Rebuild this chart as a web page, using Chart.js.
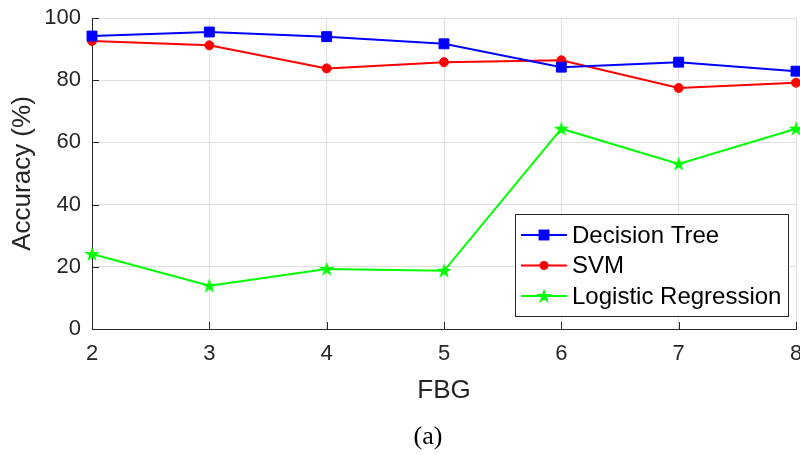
<!DOCTYPE html>
<html>
<head>
<meta charset="utf-8">
<script src="https://cdn.jsdelivr.net/npm/chart.js@4/dist/chart.umd.min.js"></script>
<style>
    html, body { margin: 0; padding: 0; background: #ffffff; }
    #wrap { position: relative; width: 800px; height: 455px; }
    #caption {
        position: absolute;
        left: 378px;
        width: 100px;
        top: 421px;
        text-align: center;
        font-family: "Liberation Serif", "DejaVu Serif", serif;
        font-size: 26px;
        line-height: 30px;
        color: #000000;
    }
</style>
</head>
<body>
<div id="wrap">
    <canvas id="chartAccuracy" width="800" height="455"></canvas>
    <div id="caption">(a)</div>
</div>
<script>
// Data
const fbgCounts = [2, 3, 4, 5, 6, 7, 8];
const decisionTreeAcc = [94.2, 95.5, 94.0, 91.7, 84.2, 85.8, 82.9];
const svmAcc = [92.6, 91.2, 83.8, 85.8, 86.4, 77.5, 79.2];
const logisticAcc = [24.1, 13.9, 19.3, 18.7, 64.4, 53.1, 64.4];
const yTicks = [0, 20, 40, 60, 80, 100];

const AXIS_COLOR = '#262626';
const GRID_COLOR = '#dfdfdf';
const FONT = '"Liberation Sans", Arial, Helvetica, sans-serif';

/**
 * Filled pentagram marker (MATLAB 'p')
 */
function makeStar(color, outer) {
    const size = Math.ceil(outer * 2 + 2);
    const cv = document.createElement('canvas');
    cv.width = size;
    cv.height = size;
    const c = cv.getContext('2d');
    const inner = outer * 0.382;
    c.beginPath();
    for (let i = 0; i < 10; i++) {
        const r = i % 2 === 0 ? outer : inner;
        const a = -Math.PI / 2 + i * Math.PI / 5;
        const px = size / 2 + r * Math.cos(a);
        const py = size / 2 + r * Math.sin(a) + 0.5;
        if (i === 0) c.moveTo(px, py); else c.lineTo(px, py);
    }
    c.closePath();
    c.fillStyle = color;
    c.fill();
    return cv;
}

const starMarker = makeStar('#00ff00', 8);

function toPoints(values) {
    return values.map((v, i) => ({ x: fbgCounts[i], y: v }));
}

const datasets = [
    {
        label: 'Decision Tree',
        data: toPoints(decisionTreeAcc),
        borderColor: '#0000ff',
        backgroundColor: '#0000ff',
        pointStyle: 'rect',
        pointRadius: 7,
        pointBorderWidth: 1,
        borderWidth: 2,
        clip: false
    },
    {
        label: 'SVM',
        data: toPoints(svmAcc),
        borderColor: '#ff0000',
        backgroundColor: '#ff0000',
        pointStyle: 'circle',
        pointRadius: 4.5,
        pointBorderWidth: 1,
        borderWidth: 2,
        clip: false
    },
    {
        label: 'Logistic Regression',
        data: toPoints(logisticAcc),
        borderColor: '#00ff00',
        backgroundColor: '#00ff00',
        pointStyle: starMarker,
        pointRadius: 8,
        borderWidth: 2,
        clip: false
    }
];

// no extra room around the plot for edge labels, MATLAB lets them overhang
function noPadding(scale) {
    scale.paddingLeft = 0;
    scale.paddingRight = 0;
    scale.paddingTop = 0;
    scale.paddingBottom = 0;
}

/**
 * Inward tick marks on the left and bottom axes
 */
const innerTicks = {
    id: 'innerTicks',
    beforeDatasetsDraw(chart) {
        const { ctx, chartArea, scales } = chart;
        ctx.save();
        ctx.strokeStyle = AXIS_COLOR;
        ctx.lineWidth = 1;
        ctx.beginPath();
        scales.x.ticks.forEach(t => {
            const px = Math.round(scales.x.getPixelForValue(t.value)) + 0.5;
            ctx.moveTo(px, chartArea.bottom);
            ctx.lineTo(px, chartArea.bottom - 7);
        });
        scales.y.ticks.forEach(t => {
            const py = Math.round(scales.y.getPixelForValue(t.value)) + 0.5;
            ctx.moveTo(chartArea.left, py);
            ctx.lineTo(chartArea.left + 7, py);
        });
        ctx.stroke();
        ctx.restore();
    }
};

function drawMarker(ctx, ds, x, y) {
    ctx.fillStyle = ds.backgroundColor;
    if (ds.pointStyle === 'rect') {
        const s = ds.pointRadius * Math.SQRT1_2 + 0.5;
        ctx.fillRect(x - s, y - s, s * 2, s * 2);
    } else if (ds.pointStyle === 'circle') {
        ctx.beginPath();
        ctx.arc(x, y, ds.pointRadius, 0, Math.PI * 2);
        ctx.fill();
    } else {
        const img = ds.pointStyle;
        ctx.drawImage(img, x - img.width / 2, y - img.height / 2);
    }
}

/**
 * MATLAB style legend box in the lower right of the plot
 */
const boxLegend = {
    id: 'boxLegend',
    afterDraw(chart) {
        const { ctx, chartArea } = chart;
        const w = 273, h = 102;
        const left = chartArea.right - 8 - w;
        const top = chartArea.bottom - 13 - h;
        ctx.save();
        ctx.fillStyle = '#ffffff';
        ctx.fillRect(left, top, w, h);
        ctx.strokeStyle = AXIS_COLOR;
        ctx.lineWidth = 1;
        ctx.strokeRect(Math.round(left) + 0.5, Math.round(top) + 0.5, w, h);

        chart.data.datasets.forEach((ds, i) => {
            const rowY = top + 21 + i * 30.5;
            ctx.strokeStyle = ds.borderColor;
            ctx.lineWidth = 2;
            ctx.beginPath();
            ctx.moveTo(left + 6, rowY);
            ctx.lineTo(left + 52, rowY);
            ctx.stroke();
            drawMarker(ctx, ds, left + 29, rowY);

            ctx.fillStyle = '#000000';
            ctx.font = '24px ' + FONT;
            ctx.textBaseline = 'middle';
            ctx.textAlign = 'left';
            ctx.fillText(ds.label, left + 57, rowY + 1);
        });
        ctx.restore();
    }
};

function renderChart() {
    const ctx = document.getElementById('chartAccuracy').getContext('2d');
    new Chart(ctx, {
        type: 'line',
        data: { datasets },
        options: {
            responsive: false,
            animation: false,
            layout: {
                autoPadding: false,
                padding: { top: 18, right: 4, bottom: 0, left: 0 }
            },
            plugins: {
                legend: { display: false },
                tooltip: { enabled: false }
            },
            scales: {
                x: {
                    type: 'linear',
                    min: 2,
                    max: 8,
                    afterFit(scale) {
                        scale.height = 126;
                        noPadding(scale);
                    },
                    afterBuildTicks(scale) {
                        scale.ticks = fbgCounts.map(v => ({ value: v }));
                    },
                    grid: { color: GRID_COLOR, drawTicks: false },
                    border: { display: true, color: AXIS_COLOR, width: 1 },
                    ticks: {
                        padding: 12,
                        color: AXIS_COLOR,
                        font: { family: FONT, size: 22 }
                    },
                    title: {
                        display: true,
                        text: 'FBG',
                        color: AXIS_COLOR,
                        font: { family: FONT, size: 26 },
                        padding: { top: 0, bottom: 49 }
                    }
                },
                y: {
                    min: 0,
                    max: 100,
                    afterFit(scale) {
                        scale.width = 92;
                        noPadding(scale);
                    },
                    afterBuildTicks(scale) {
                        scale.ticks = yTicks.map(v => ({ value: v }));
                    },
                    grid: { color: GRID_COLOR, drawTicks: false },
                    border: { display: true, color: AXIS_COLOR, width: 1 },
                    ticks: {
                        padding: 11,
                        color: AXIS_COLOR,
                        font: { family: FONT, size: 22 }
                    },
                    title: {
                        display: true,
                        text: 'Accuracy (%)',
                        color: AXIS_COLOR,
                        font: { family: FONT, size: 26 },
                        padding: { top: 7, bottom: 0 }
                    }
                }
            }
        },
        plugins: [innerTicks, boxLegend]
    });
}

renderChart();
</script>
</body>
</html>
